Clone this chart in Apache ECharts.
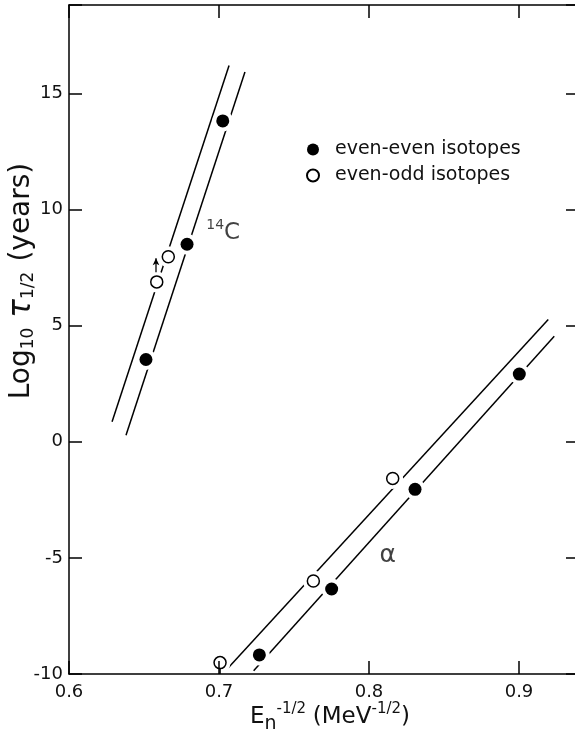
<!DOCTYPE html>
<html>
<head>
<meta charset="utf-8">
<script src="https://cdn.jsdelivr.net/npm/echarts@6/dist/echarts.min.js"></script>
<style>
    html, body {margin: 0; padding: 0; background: #fff;}
    #chart-one {width: 575px; height: 736px;}
</style>
</head>
<body>
<div id="chart-one"></div>
<script>
// measured points, x = En^-1/2, y = log10 half-life
const c14EvenEven = [[0.6513, 3.54], [0.6787, 8.50], [0.7025, 13.81]];
const c14EvenOdd = [[0.6585, 6.88], [0.6662, 7.96]];
const alphaEvenEven = [[0.7269, -9.18], [0.7751, -6.34], [0.8307, -2.05], [0.9002, 2.91]];
const alphaEvenOdd = [[0.7007, -9.51], [0.7629, -6.00], [0.8158, -1.58]];

// fitted lines (end points)
const c14OddLine = [[0.6287, 0.86], [0.7067, 16.2]];
const c14EvenLine = [[0.6380, 0.28], [0.7173, 15.92]];
const alphaOddLine = [[0.7062, -9.73], [0.9195, 5.26]];
const alphaEvenLine = [[0.7231, -9.86], [0.9235, 4.54]];

// little limit marks on two open points
const c14Arrow = [[0.6580, 7.30], [0.6580, 7.90]];
const alphaStem = [[0.7007, -9.76], [0.7007, -10]];

// text spots
const c14LabelPos = [0.7028, 9.0];
const alphaLabelPos = [0.8125, -4.88];

const xTicks = [0.6, 0.7, 0.8, 0.9];
const yTicks = [-10, -5, 0, 5, 10, 15];
const legendNames = ['even-even isotopes', 'even-odd isotopes'];

const FONT = 'DejaVu Sans';

let chart1 = echarts.init(document.getElementById('chart-one'));

const fitLine = (data) => ({
    type: 'line',
    data: data,
    showSymbol: false,
    symbol: 'none',
    silent: true,
    z: 2,
    lineStyle: {color: '#000', width: 1.5}
});

// white disc under each point so the fitted line gets broken there
const halo = (data) => ({
    type: 'scatter',
    data: data,
    symbolSize: 21,
    silent: true,
    z: 3,
    itemStyle: {color: '#fff', opacity: 1}
});

const axisBase = {
    type: 'value',
    min: 0.6,
    max: 0.94,
    interval: 0.1,
    splitLine: {show: false},
    axisLine: {onZero: false, lineStyle: {color: '#000', width: 1.5}},
    axisTick: {inside: true, length: 13, lineStyle: {color: '#000', width: 1.5}},
    z: 10
};

const yBase = {
    type: 'value',
    min: -10,
    max: 18.8,
    interval: 5,
    splitLine: {show: false},
    axisLine: {onZero: false, lineStyle: {color: '#000', width: 1.5}},
    axisTick: {inside: true, length: 13, lineStyle: {color: '#000', width: 1.5}},
    z: 10
};

const tickText = (list) => (v) => {
    let hit = list.find(t => Math.abs(t - v) < 1e-6);
    return hit === undefined ? '' : String(hit);
};

chart1.setOption({
    animation: false,
    backgroundColor: '#fff',
    grid: {left: 69, top: 5, width: 510, height: 669, outerBoundsMode: 'none', containLabel: false},
    legend: {
        data: legendNames,
        orient: 'vertical',
        left: 301,
        top: 135,
        itemWidth: 34,
        itemHeight: 12,
        itemGap: 7,
        icon: 'circle',
        textStyle: {fontFamily: FONT, fontSize: 19, color: '#111'}
    },
    xAxis: [
        Object.assign({}, axisBase, {
            position: 'bottom',
            axisLabel: {
                margin: 9,
                fontFamily: FONT, fontSize: 18, color: '#111',
                formatter: tickText(xTicks)
            }
        }),
        Object.assign({}, axisBase, {
            position: 'top',
            axisLabel: {show: false}
        })
    ],
    yAxis: [
        Object.assign({}, yBase, {
            position: 'left',
            axisLabel: {
                margin: 6,
                fontFamily: FONT, fontSize: 18, color: '#111',
                formatter: tickText(yTicks)
            }
        }),
        Object.assign({}, yBase, {
            position: 'right',
            axisLabel: {show: false}
        })
    ],
    graphic: [
        {
            type: 'text',
            x: 22,
            y: 281,
            rotation: Math.PI / 2,
            style: {
                text: '{n|Log}{s|10}   {t|τ}{s|1/2}   {n|(years)}',
                align: 'center',
                verticalAlign: 'middle',
                fill: '#111',
                rich: {
                    n: {fontFamily: FONT, fontSize: 28, fill: '#111'},
                    t: {fontFamily: FONT, fontSize: 31, fontStyle: 'italic', fill: '#111'},
                    s: {fontFamily: FONT, fontSize: 17, fill: '#111', padding: [14, 0, 0, 0]}
                }
            }
        },
        {
            type: 'text',
            x: 330,
            y: 717,
            style: {
                text: '{n|E}{s|n}{p|-1/2}  {n|(MeV}{p|-1/2}{n|)}',
                align: 'center',
                verticalAlign: 'middle',
                fill: '#111',
                rich: {
                    n: {fontFamily: FONT, fontSize: 23, fill: '#111'},
                    s: {fontFamily: FONT, fontSize: 19, fill: '#111', padding: [14, 0, 0, 0]},
                    p: {fontFamily: FONT, fontSize: 15, fill: '#111', padding: [0, 0, 16, 0]}
                }
            }
        }
    ],
    series: [
        fitLine(c14OddLine),
        fitLine(c14EvenLine),
        fitLine(alphaOddLine),
        fitLine(alphaEvenLine),

        halo(c14EvenEven),
        halo(c14EvenOdd),
        halo(alphaEvenEven),
        halo(alphaEvenOdd),

        {
            name: legendNames[0],
            type: 'scatter',
            data: c14EvenEven.concat(alphaEvenEven),
            symbol: 'circle',
            symbolSize: 13,
            z: 5,
            itemStyle: {color: '#000', opacity: 1}
        },
        {
            name: legendNames[1],
            type: 'scatter',
            data: c14EvenOdd.concat(alphaEvenOdd),
            symbol: 'circle',
            symbolSize: 12,
            z: 5,
            itemStyle: {color: '#fff', borderColor: '#000', borderWidth: 1.5, opacity: 1}
        },

        // arrow on the 14C even-odd point
        {
            type: 'line',
            data: [
                {value: c14Arrow[0], symbol: 'none'},
                {value: c14Arrow[1], symbol: 'arrow', symbolSize: [5, 7]}
            ],
            showSymbol: true,
            z: 6,
            lineStyle: {color: '#000', width: 1.3},
            itemStyle: {color: '#000', opacity: 1}
        },
        // stem under the lowest alpha even-odd point
        {
            type: 'line',
            data: alphaStem,
            showSymbol: false,
            symbol: 'none',
            z: 6,
            lineStyle: {color: '#000', width: 1.5}
        },

        // curve labels
        {
            type: 'scatter',
            data: [c14LabelPos],
            symbolSize: 0,
            silent: true,
            z: 6,
            label: {
                show: true,
                position: 'inside',
                formatter: '{s|14}{n|C}',
                rich: {
                    n: {fontFamily: FONT, fontSize: 23, color: '#111'},
                    s: {fontFamily: FONT, fontSize: 14, color: '#111', padding: [0, 0, 14, 0]}
                }
            }
        },
        {
            type: 'scatter',
            data: [alphaLabelPos],
            symbolSize: 0,
            silent: true,
            z: 6,
            label: {
                show: true,
                position: 'inside',
                formatter: 'α',
                fontFamily: FONT,
                fontSize: 25,
                color: '#111'
            }
        }
    ]
});
</script>
</body>
</html>
